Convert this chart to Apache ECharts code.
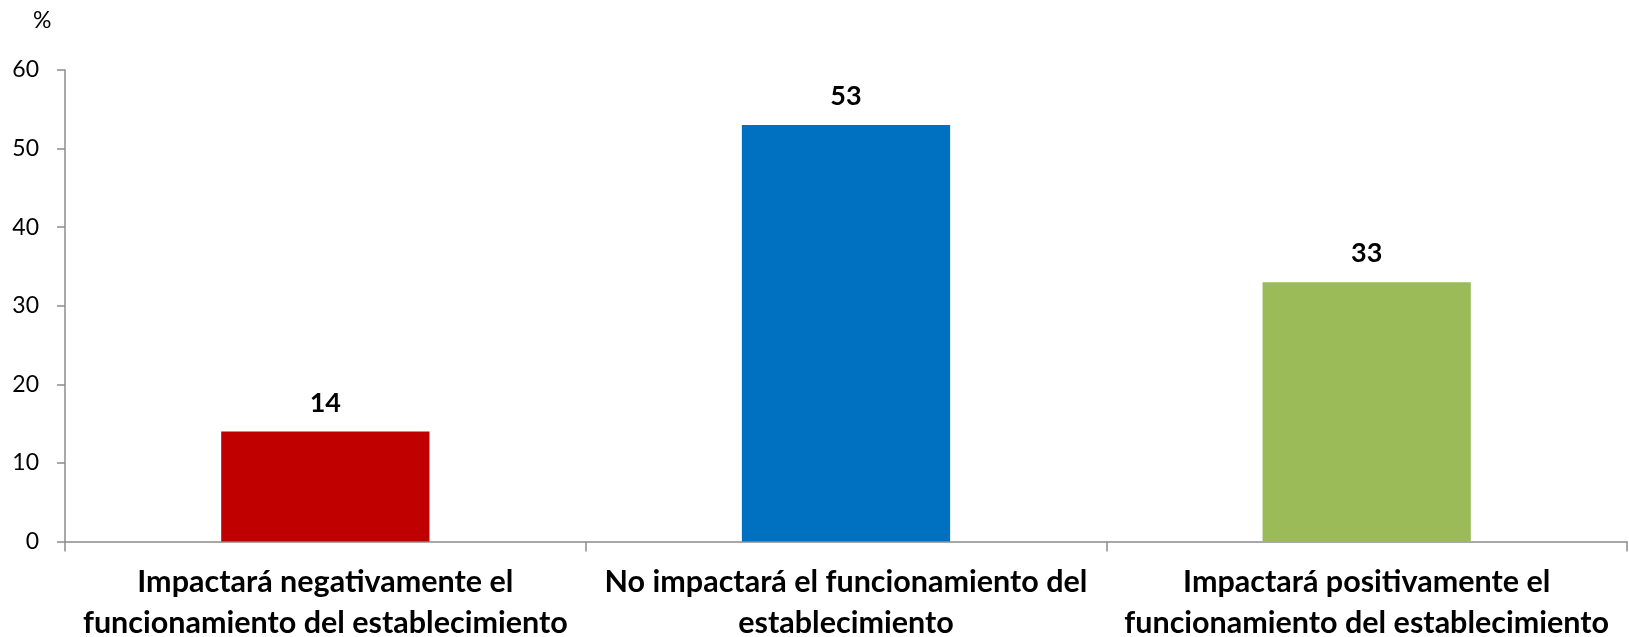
<!DOCTYPE html>
<html><head><meta charset="utf-8">
<script src="https://cdn.jsdelivr.net/npm/echarts@6/dist/echarts.min.js"></script>
<style>html,body{margin:0;padding:0;background:#fff}#c{width:1629px;height:637px}</style>
</head><body><div id="c"></div>
<script>
const categories = [
  'Impactará negativamente el\nfuncionamiento del establecimiento',
  'No impactará el funcionamiento del\nestablecimiento',
  'Impactará positivamente el\nfuncionamiento del establecimiento'
];
const values = [14, 53, 33];
const barColors = ['#C00000', '#0070C0', '#9BBB59'];
const yTicks = [0, 10, 20, 30, 40, 50, 60];
const unitLabel = '%';

const chart = echarts.init(document.getElementById('c'), null, {renderer: 'canvas'});
const font = 'Lato, "Open Sans", sans-serif';
chart.setOption({
  animation: false,
  title: {text: unitLabel, left: 28, top: 4, textStyle: {fontFamily: font, fontSize: 23, fontWeight: 'normal', color: '#000'}},
  grid: {left: 65, right: 2, top: 70, bottom: 95.5, containLabel: false, outerBoundsMode: 'none'},
  xAxis: {
    type: 'category', data: categories,
    axisLine: {lineStyle: {color: '#8c8c8c', width: 1.5}},
    axisTick: {show: true, length: 10, lineStyle: {color: '#8c8c8c', width: 1.5}},
    axisLabel: {interval: 0, margin: 20, fontFamily: font, fontSize: 30.5, fontWeight: 'bold', color: '#000', lineHeight: 41}
  },
  yAxis: {
    type: 'value', min: yTicks[0], max: yTicks[yTicks.length - 1], interval: 10,
    splitLine: {show: false},
    axisLine: {show: true, lineStyle: {color: '#8c8c8c', width: 1.5}},
    axisTick: {show: true, length: 8, lineStyle: {color: '#8c8c8c', width: 1.5}},
    axisLabel: {margin: 26, fontFamily: font, fontSize: 23, color: '#000'}
  },
  series: [{
    type: 'bar', barWidth: '40%',
    data: values.map((v, i) => ({value: v, itemStyle: {color: barColors[i]}})),
    label: {show: true, position: 'top', distance: 15, fontFamily: font, fontSize: 27, fontWeight: 'bold', color: '#000'}
  }]
});
</script></body></html>
